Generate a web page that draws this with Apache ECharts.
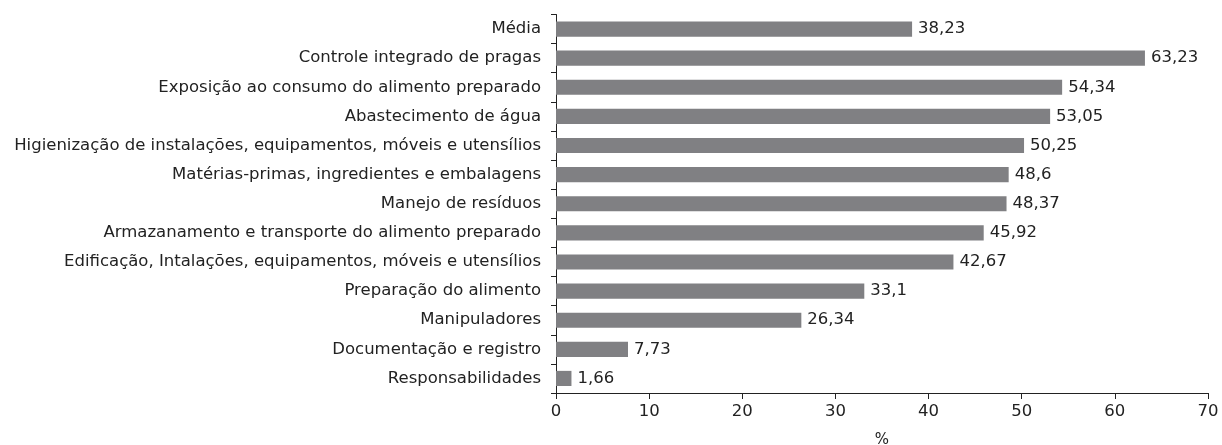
<!DOCTYPE html>
<html><head><meta charset="utf-8">
<script src="https://cdn.jsdelivr.net/npm/echarts@6/dist/echarts.min.js"></script>
<style>html,body{margin:0;padding:0;background:#fff}#c{width:1222px;height:445px}</style>
</head><body><div id="c"></div>
<script>
const categories = [
  "Média",
  "Controle integrado de pragas",
  "Exposição ao consumo do alimento preparado",
  "Abastecimento de água",
  "Higienização de instalações, equipamentos, móveis e utensílios",
  "Matérias-primas, ingredientes e embalagens",
  "Manejo de resíduos",
  "Armazanamento e transporte do alimento preparado",
  "Edificação, Intalações, equipamentos, móveis e utensílios",
  "Preparação do alimento",
  "Manipuladores",
  "Documentação e registro",
  "Responsabilidades"
];
const values = [38.23, 63.23, 54.34, 53.05, 50.25, 48.6, 48.37, 45.92, 42.67, 33.1, 26.34, 7.73, 1.66];
const xTicks = [0, 10, 20, 30, 40, 50, 60, 70];

const FONT = "DejaVu Sans";
const FS = 16.5;
const chart = echarts.init(document.getElementById('c'), null, {renderer: 'canvas'});
chart.setOption({
  animation: false,
  grid: {left: 556, right: 14, top: 14.5, bottom: 52, containLabel: false, outerBoundsMode: 'none'},
  xAxis: {
    type: 'value', min: xTicks[0], max: xTicks[xTicks.length - 1], interval: 10,
    name: '%', nameLocation: 'middle', nameGap: 40,
    nameTextStyle: {fontFamily: FONT, fontSize: 15, color: '#222'},
    axisLine: {show: true, lineStyle: {color: '#222', width: 1}},
    axisTick: {show: true, length: 6, lineStyle: {color: '#222'}},
    axisLabel: {fontFamily: FONT, fontSize: FS, color: '#222', margin: 10},
    splitLine: {show: false}
  },
  yAxis: {
    type: 'category', data: categories, inverse: true,
    axisLine: {show: true, lineStyle: {color: '#222', width: 1}},
    axisTick: {show: true, length: 5, lineStyle: {color: '#222'}},
    axisLabel: {fontFamily: FONT, fontSize: FS, color: '#222', margin: 15}
  },
  series: [{
    type: 'bar', data: values, barCategoryGap: '48%',
    itemStyle: {color: '#808083'},
    label: {
      show: true, position: 'right', distance: 6,
      fontFamily: FONT, fontSize: FS, color: '#222',
      formatter: p => String(p.value).replace('.', ',')
    }
  }]
});
</script></body></html>
